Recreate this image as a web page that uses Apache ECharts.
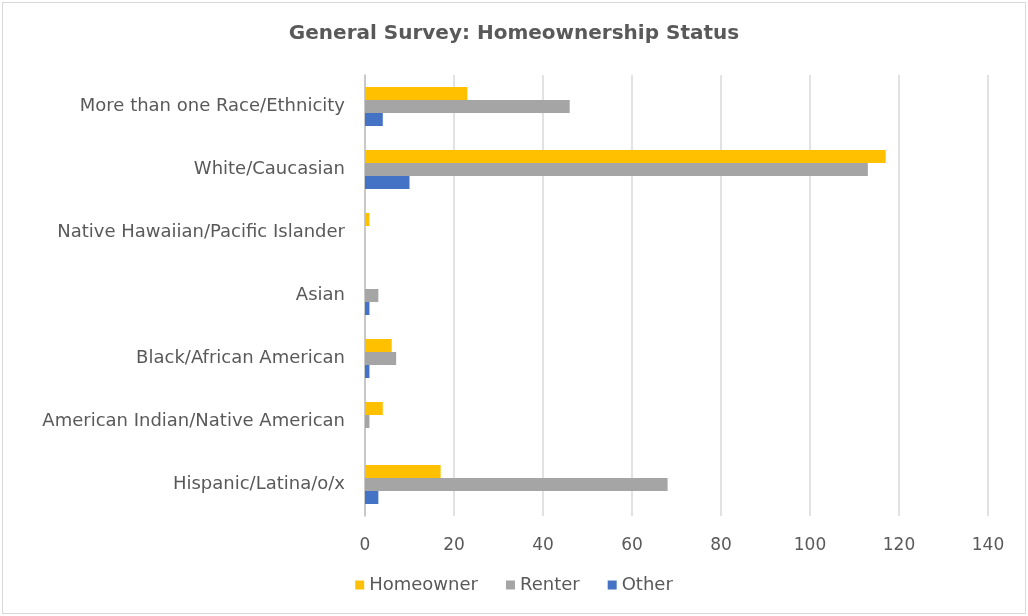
<!DOCTYPE html>
<html>
<head>
<meta charset="utf-8">
<script src="https://cdn.jsdelivr.net/npm/echarts@6/dist/echarts.min.js"></script>
<style>
    html, body { margin: 0; padding: 0; background: #fff; }
    #frame { position: absolute; left: 2px; top: 2px; width: 1022px; height: 610px; border: 1px solid #d9d9d9; }
    #chart { position: absolute; left: 0; top: 0; width: 1028px; height: 616px; }
</style>
</head>
<body>
<div id="frame"></div>
<div id="chart"></div>
<script>
// categories listed top to bottom as shown
var categories = [
    'More than one Race/Ethnicity',
    'White/Caucasian',
    'Native Hawaiian/Pacific Islander',
    'Asian',
    'Black/African American',
    'American Indian/Native American',
    'Hispanic/Latina/o/x'
];
var homeowner = [23, 117, 1, 0, 6, 4, 17];
var renter = [46, 113, 0, 3, 7, 1, 68];
var other = [4, 10, 0, 1, 1, 0, 3];
var xTicks = [0, 20, 40, 60, 80, 100, 120, 140];

var textColor = '#595959';
var fontName = 'DejaVu Sans';

var chart = echarts.init(document.getElementById('chart'));

function makeSeries(name, data, color) {
    return {
        name: name,
        type: 'bar',
        data: data,
        barWidth: 13,
        barGap: '0%',
        itemStyle: { color: color },
        animation: false
    };
}

var option = {
    backgroundColor: 'transparent',
    title: {
        text: 'General Survey: Homeownership Status',
        left: 'center',
        top: 19,
        textStyle: { color: textColor, fontSize: 20, fontWeight: 'bold', fontFamily: fontName }
    },
    legend: {
        data: ['Homeowner', 'Renter', 'Other'],
        bottom: 17,
        left: 'center',
        icon: 'rect',
        itemWidth: 9,
        itemHeight: 9,
        itemGap: 28,
        textStyle: { color: textColor, fontSize: 18, fontFamily: fontName }
    },
    grid: {
        left: 365,
        right: 40,
        top: 75,
        bottom: 100
    },
    xAxis: {
        type: 'value',
        min: xTicks[0],
        max: xTicks[xTicks.length - 1],
        interval: 20,
        axisLine: { show: false },
        axisTick: { show: false },
        splitLine: { lineStyle: { color: '#d9d9d9', width: 1.5 } },
        axisLabel: { color: textColor, fontSize: 17, fontFamily: fontName, margin: 21 }
    },
    yAxis: {
        type: 'category',
        data: categories,
        inverse: true,
        axisLine: { lineStyle: { color: '#bfbfbf', width: 1.5 } },
        axisTick: { show: false },
        axisLabel: { color: textColor, fontSize: 18, fontFamily: fontName, margin: 20 }
    },
    series: [
        makeSeries('Homeowner', homeowner, '#FFC000'),
        makeSeries('Renter', renter, '#A5A5A5'),
        makeSeries('Other', other, '#4472C4')
    ]
};

chart.setOption(option);
</script>
</body>
</html>
